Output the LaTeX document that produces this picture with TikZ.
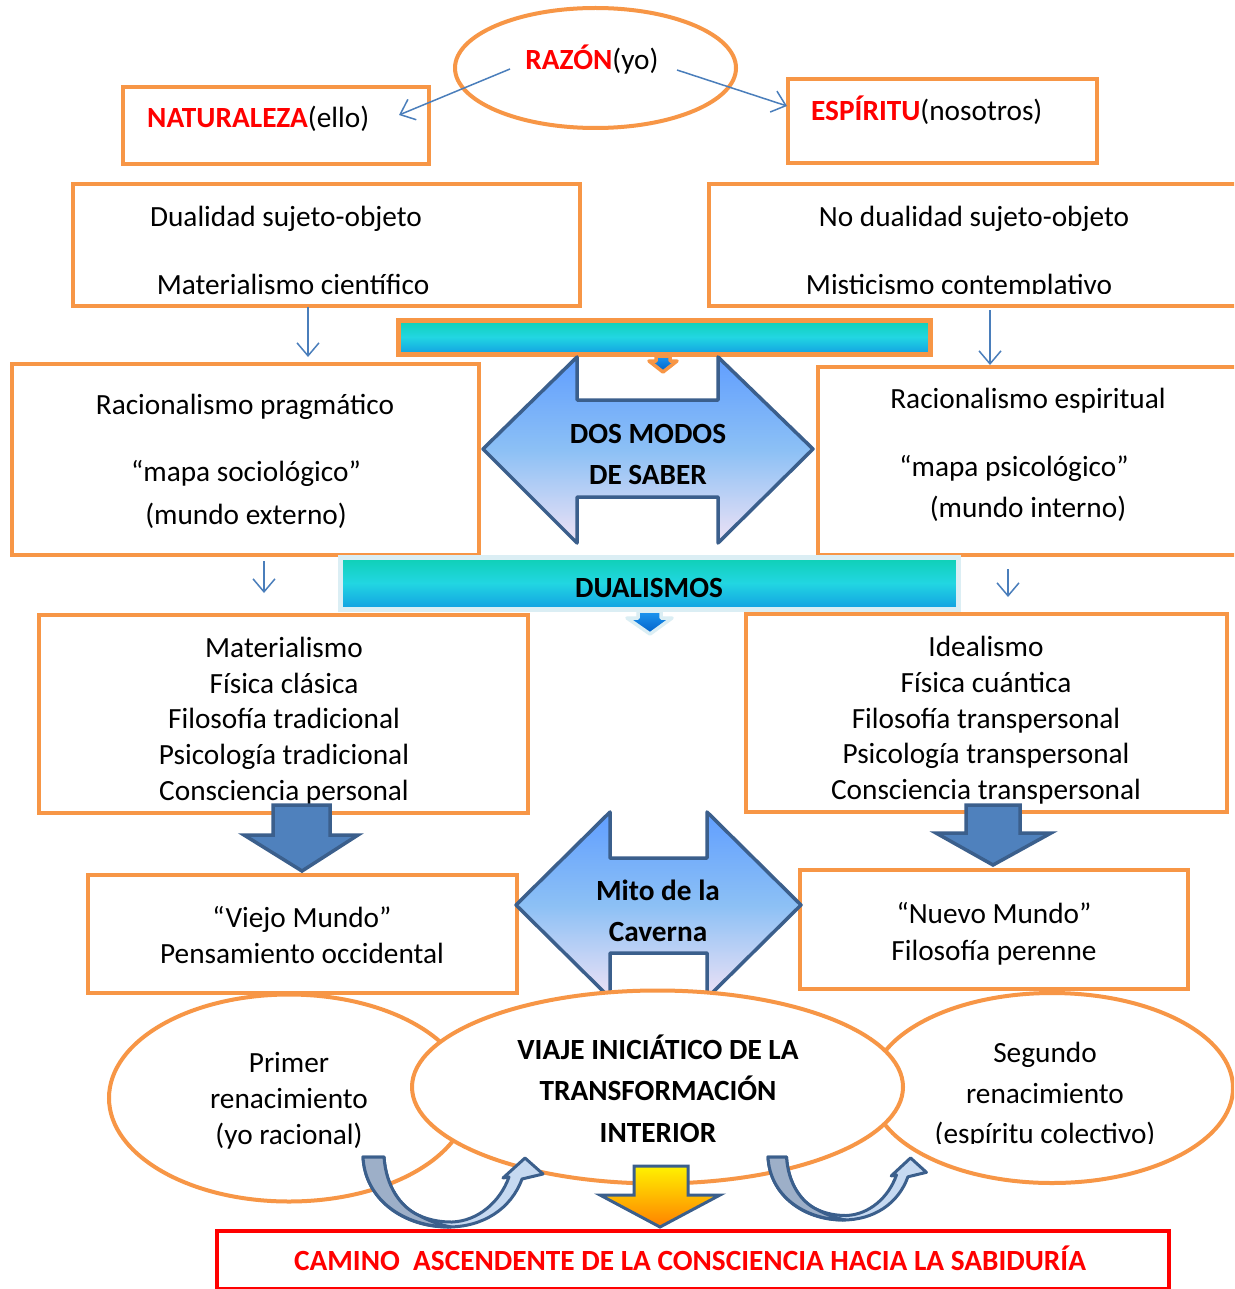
\documentclass[tikz,border=0pt]{standalone}
\usepackage{fontspec}
\setmainfont{Carlito}
\usetikzlibrary{shapes.geometric,arrows.meta}
\definecolor{orng}{HTML}{F79646}
\definecolor{lnblue}{HTML}{4A7EBB}
\definecolor{shblue}{HTML}{3B5F8C}
\definecolor{fillblue}{HTML}{4F81BD}
\definecolor{tealtop}{RGB}{14,208,180}
\definecolor{tealmid}{RGB}{34,214,226}
\definecolor{tealbot}{RGB}{18,160,226}
\definecolor{arrtop}{RGB}{96,158,255}
\definecolor{arrmid}{RGB}{140,192,245}
\definecolor{arrbot}{RGB}{238,226,245}
\definecolor{darkband}{HTML}{9DAFC8}
\definecolor{lightband}{HTML}{C6D9F1}
\definecolor{palebord}{HTML}{DBEEF4}
\definecolor{smalltop}{RGB}{30,150,240}
\definecolor{smallbot}{RGB}{0,96,200}
\definecolor{yeltop}{RGB}{255,242,0}
\definecolor{yelbot}{RGB}{255,128,0}
\begin{document}
\begin{tikzpicture}[x=1pt,y=-1pt,
  box/.style={draw=orng, line width=4pt, rectangle, inner sep=0pt, outer sep=0pt, fill=white, anchor=north west},
  oval/.style={draw=orng, line width=4pt, ellipse, inner sep=0pt, outer sep=0pt, fill=white},
  txt/.style={anchor=base, inner sep=0pt, font=\fontsize{29.3}{35.8}\selectfont},
  btxt/.style={anchor=base, inner sep=0pt, font=\fontsize{29.3}{35.8}\selectfont\bfseries},
  thinarrow/.style={draw=lnblue, line width=1.5pt, -{Straight Barb[length=13pt,width=22pt]}},
  blockarrow/.style={draw=shblue, line width=3.5pt, line join=round},
  curvearrow/.style={draw=shblue, line width=3pt, line join=round}]
\useasboundingbox (0,0) rectangle (1234,1289);
\clip (0,0) rectangle (1234,1289);
\fill[white] (0,0) rectangle (1234,1289);

% top ellipse and boxes
\node[oval, minimum width=281pt, minimum height=120pt] (razon) at (595.5,68) {};
\node[box, minimum width=306pt, minimum height=77pt] (nat) at (123,87) {};
\node[box, minimum width=309pt, minimum height=84pt] (esp) at (788,79) {};
\node[txt] (razt) at (592,70) {{\bfseries\color{red}RAZÓN}(yo)};
\node[txt, anchor=base west] (natt) at (147,128) {{\bfseries\color{red}NATURALEZA}(ello)};
\node[txt, anchor=base west] (espt) at (811,121) {{\bfseries\color{red}ESPÍRITU}(nosotros)};
\coordinate (razL) at (510,69);
\coordinate (razR) at (677,70);
\coordinate (natIn) at (399,115);
\coordinate (espIn) at (787,106);
\draw[thinarrow] (razL) -- (natIn);
\draw[thinarrow] (razR) -- (espIn);

% second row
\node[box, minimum width=507pt, minimum height=122pt] (dual) at (73,184) {};
\node[box, minimum width=545pt, minimum height=122pt] (nodual) at (709,184) {};
\node[txt] (dual1) at (286,226) {Dualidad sujeto-objeto};
\node[txt] (dual2) at (293,294) {Materialismo científico};
\node[txt] (nodual1) at (974,226) {No dualidad sujeto-objeto};
\begin{scope}
  \clip (712,186) rectangle (1234,293);
  \node[txt] (nodual2) at (959,294) {Misticismo contemplativo};
\end{scope}

% top bar
\path[draw=orng, line width=5pt, top color=tealtop, bottom color=tealbot, middle color=tealmid] (398,320) rectangle (930,354);
\path[draw=orng, line width=3.5pt, line join=round, top color=smalltop, bottom color=smallbot]
  (656,356) -- (670,356) -- (670,361) -- (677,361) -- (663,372) -- (649,361) -- (656,361) -- cycle;

% third row
\node[box, minimum width=467pt, minimum height=191pt] (racp) at (12,364) {};
\node[box, minimum width=430pt, minimum height=188pt] (race) at (818,367) {};
\node[txt] (racp1) at (245,414) {Racionalismo pragmático};
\node[txt] (racp2) at (246,481) {“mapa sociológico”};
\node[txt] (racp3) at (246,524) {(mundo externo)};
\node[txt] (race1) at (1028,408) {Racionalismo espiritual};
\node[txt] (race2) at (1014,476) {“mapa psicológico”};
\node[txt] (race3) at (1028,517) {(mundo interno)};
\coordinate (dualOut) at (308,307);
\coordinate (racpIn) at (308,357);
\coordinate (nodualOut) at (990,310);
\coordinate (raceIn) at (990,365);
\draw[thinarrow] (dualOut) -- (racpIn);
\draw[thinarrow] (nodualOut) -- (raceIn);

% DOS MODOS double arrow
\path[blockarrow, top color=arrtop, bottom color=arrbot, middle color=arrmid]
  (483,449) -- (577,357) -- (577,400) -- (718,400) -- (718,357) -- (813,449)
  -- (718,543) -- (718,497) -- (577,497) -- (577,543) -- cycle;
\node[btxt] (dos1) at (648,443) {DOS MODOS};
\node[btxt] (dos2) at (648,484) {DE SABER};

% DUALISMOS bar
\path[draw=palebord, line width=5pt, top color=tealtop, bottom color=tealbot, middle color=tealmid] (340,557) rectangle (958,609);
\path[draw=palebord, line width=3.5pt, line join=round, top color=smalltop, bottom color=smallbot]
  (638,611) -- (661,611) -- (661,618) -- (672,618) -- (650,634) -- (627,618) -- (638,618) -- cycle;
\node[btxt] (duals) at (649,597) {DUALISMOS};
\coordinate (racpOut) at (264,561);
\coordinate (matIn) at (264,593);
\coordinate (raceOut) at (1008,569);
\coordinate (ideIn) at (1008,597);
\draw[thinarrow] (racpOut) -- (matIn);
\draw[thinarrow] (raceOut) -- (ideIn);

% fourth row
\node[box, minimum width=489pt, minimum height=198pt] (mat) at (39,615) {};
\node[box, minimum width=481pt, minimum height=198pt] (ide) at (746,614) {};
\node[txt] (mat1) at (284,657) {Materialismo};
\node[txt] (mat2) at (284,693) {Física clásica};
\node[txt] (mat3) at (284,728) {Filosofía tradicional};
\node[txt] (mat4) at (284,764) {Psicología tradicional};
\node[txt] (mat5) at (284,800) {Consciencia personal};
\node[txt] (ide1) at (986,656) {Idealismo};
\node[txt] (ide2) at (986,692) {Física cuántica};
\node[txt] (ide3) at (986,728) {Filosofía transpersonal};
\node[txt] (ide4) at (986,763) {Psicología transpersonal};
\node[txt] (ide5) at (986,799) {Consciencia transpersonal};

% fifth row
\node[box, minimum width=429pt, minimum height=118pt] (viejo) at (88,875) {};
\node[box, minimum width=388pt, minimum height=119pt] (nuevo) at (800,870) {};
\node[txt] (viejo1) at (302,927) {“Viejo Mundo”};
\node[txt] (viejo2) at (302,963) {Pensamiento occidental};
\node[txt] (nuevo1) at (994,923) {“Nuevo Mundo”};
\node[txt] (nuevo2) at (994,960) {Filosofía perenne};

% blue block arrows down
\path[blockarrow, fill=fillblue, line join=miter]
  (273,805) -- (330,805) -- (330,835) -- (358,835) -- (302,871) -- (244,835) -- (273,835) -- cycle;
\path[blockarrow, fill=fillblue, line join=miter]
  (966,805) -- (1020,805) -- (1020,833) -- (1051,833) -- (993,865) -- (936,833) -- (966,833) -- cycle;

% Mito double arrow
\path[blockarrow, top color=arrtop, bottom color=arrbot, middle color=arrmid]
  (516,905) -- (610,812) -- (610,858) -- (707,858) -- (707,812) -- (801,905)
  -- (707,998) -- (707,953) -- (610,953) -- (610,998) -- cycle;
\node[btxt] (mito1) at (658,900) {Mito de la};
\node[btxt] (mito2) at (658,941) {Caverna};

% bottom ellipses
\node[oval, minimum width=360pt, minimum height=207pt] (prim) at (289,1098) {};
\node[oval, minimum width=362pt, minimum height=190pt] (seg) at (1052,1088) {};
\node[oval, minimum width=491pt, minimum height=193pt] (viaje) at (657.5,1087) {};
\node[txt] (prim1) at (289,1072) {Primer};
\node[txt] (prim2) at (289,1108) {renacimiento};
\node[txt] (prim3) at (289,1144) {(yo racional)};
\node[txt] (seg1) at (1045,1062) {Segundo};
\node[txt] (seg2) at (1045,1103) {renacimiento};
\begin{scope}
  \clip (860,1000) rectangle (1234,1143);
  \node[txt] (seg3) at (1045,1143) {(espíritu colectivo)};
\end{scope}
\node[btxt] (viaje1) at (658,1059) {VIAJE INICIÁTICO DE LA};
\node[btxt] (viaje2) at (658,1100) {TRANSFORMACIÓN};
\node[btxt] (viaje3) at (658,1142) {INTERIOR};

% curved arrows
\foreach \sx/\sy/\fx/\fy in {363/1157/1/1, 768/1157/0.88/0.9}{
  \begin{scope}[shift={(\sx,\sy)}, xscale=\fx, yscale=\fy]
    \path[curvearrow, fill=lightband]
      (0,0) -- (21,0) .. controls (23,30) and (38,50) .. (55,58)
      .. controls (68,64) and (80,65) .. (89,65)
      .. controls (115,64) and (137,45) .. (146,20)
      -- (140,21) -- (162,1) -- (180,17) -- (159,22)
      .. controls (148,52) and (120,70) .. (85,70)
      .. controls (40,70) and (2,42) .. (0,0) -- cycle;
    \path[curvearrow, fill=darkband]
      (0,0) -- (21,0) .. controls (23,30) and (38,50) .. (55,58)
      .. controls (66,64) and (78,68) .. (88,70)
      .. controls (40,70) and (2,42) .. (0,0) -- cycle;
  \end{scope}
}

% yellow arrow
\path[blockarrow, line width=3pt, top color=yeltop, bottom color=yelbot, line join=miter]
  (634,1166) -- (688,1166) -- (688,1195) -- (720,1195) -- (660,1227) -- (600,1195) -- (634,1195) -- cycle;

% bottom red box
\node[draw=red, line width=3.5pt, fill=white, rectangle, anchor=north west, inner sep=0pt,
  minimum width=952pt, minimum height=58pt] (camino) at (215,1229) {};
\node[btxt, text=red] (caminot) at (690,1270) {CAMINO\ \ ASCENDENTE DE LA CONSCIENCIA HACIA LA SABIDURÍA};
\end{tikzpicture}
\end{document}
